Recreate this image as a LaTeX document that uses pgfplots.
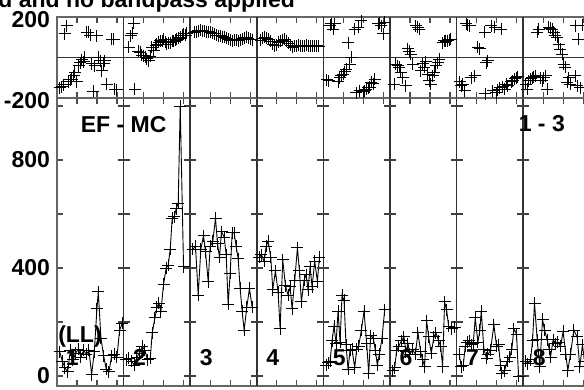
\documentclass[border=0pt]{standalone}
\usepackage{fontspec}
\setmainfont{Liberation Sans}
\usepackage{pgfplots}
\pgfplotsset{compat=1.18}

% shared frame of the two rows: 8 baseline panels side by side on x = 0..8
\pgfplotsset{
  panelframe/.style={
    scale only axis, width=266.4pt, xmin=0, xmax=8,
    axis line style={black!60, line width=0.9pt},
    xtick={0.3,0.6,0.9,1.3,1.6,1.9,2.3,2.6,2.9,3.3,3.6,3.9,4.3,4.6,4.9,5.3,5.6,5.9,6.3,6.6,6.9,7.3,7.6,7.9},
    xticklabels={},
    tick align=inside, major tick length=3pt,
    tick style={black!70, line width=0.6pt},
    extra x ticks={1,2,3,4,5,6,7}, extra x tick labels={},
    extra x tick style={grid=major, major tick length=0pt},
    major grid style={black!80, line width=0.8pt},
    /pgf/number format/assume math mode=true,
  },
  vis/.style={black, line width=0.45pt, mark=+, mark size=3pt,
    mark options={solid, line width=0.5pt}},
}

\begin{document}
\begin{tikzpicture}[font=\fontsize{11.5}{13}\selectfont\bfseries]

% amplitude row
\begin{axis}[panelframe, at={(28.5pt,2pt)}, anchor=south west, height=144pt,
  ymin=-37, ymax=1030, ytick={0,200,400,600,800,1000}, yticklabels={0,,400,,800,}]
\addplot[vis] coordinates {(0.04,90) (0.08,55) (0.12,30) (0.16,15) (0.20,95) (0.24,60) (0.28,85) (0.32,100) (0.36,70) (0.40,95) (0.44,80) (0.48,95) (0.52,5) (0.56,90) (0.60,250) (0.62,312) (0.66,140) (0.70,75) (0.74,25) (0.78,15) (0.82,75) (0.86,80) (0.90,70) (0.94,170) (0.98,195)};
\addplot[vis] coordinates {(1.04,60) (1.08,65) (1.12,55) (1.16,40) (1.20,70) (1.24,85) (1.28,110) (1.32,95) (1.36,60) (1.40,65) (1.43,160) (1.47,215) (1.50,255) (1.53,270) (1.56,240) (1.60,340) (1.64,400) (1.67,410) (1.70,470) (1.73,585) (1.76,590) (1.79,620) (1.82,640) (1.85,1000) (1.90,405)};
\addplot[vis] coordinates {(2.04,470) (2.08,480) (2.12,300) (2.16,470) (2.20,520) (2.23,460) (2.27,350) (2.30,480) (2.34,500) (2.38,585) (2.41,490) (2.44,440) (2.47,535) (2.51,515) (2.54,450) (2.57,265) (2.60,380) (2.63,530) (2.66,530) (2.69,480) (2.72,435) (2.75,325) (2.78,240) (2.81,170) (2.85,255) (2.89,325) (2.93,255)};
\addplot[vis] coordinates {(3.04,440) (3.07,450) (3.11,425) (3.14,480) (3.17,500) (3.21,440) (3.24,320) (3.28,390) (3.32,310) (3.35,175) (3.39,430) (3.43,335) (3.47,300) (3.50,330) (3.53,250) (3.57,355) (3.61,475) (3.64,390) (3.67,275) (3.71,355) (3.74,375) (3.77,320) (3.80,405) (3.83,330) (3.87,425) (3.91,350) (3.94,440)};
\addplot[vis] coordinates {(4.04,40) (4.07,50) (4.10,55) (4.13,130) (4.16,185) (4.19,120) (4.22,240) (4.25,125) (4.28,300) (4.31,280) (4.34,115) (4.37,25) (4.40,95) (4.43,100) (4.47,30) (4.50,100) (4.53,110) (4.57,170) (4.61,240) (4.65,120) (4.68,10) (4.71,150) (4.75,140) (4.78,95) (4.81,40) (4.84,80) (4.88,140) (4.92,245)};
\addplot[vis] coordinates {(5.04,20) (5.07,30) (5.10,95) (5.13,110) (5.17,130) (5.21,145) (5.24,90) (5.27,120) (5.30,80) (5.34,100) (5.38,80) (5.42,160) (5.46,90) (5.49,60) (5.52,35) (5.55,205) (5.58,145) (5.62,85) (5.66,145) (5.69,160) (5.73,130) (5.76,110) (5.79,35) (5.82,275) (5.85,245) (5.88,185) (5.93,175) (5.97,180)};
\addplot[vis] coordinates {(6.04,80) (6.07,35) (6.10,40) (6.13,110) (6.16,125) (6.19,130) (6.22,115) (6.25,120) (6.28,215) (6.32,125) (6.35,170) (6.37,240) (6.41,100) (6.45,65) (6.47,80) (6.51,95) (6.56,190) (6.60,110) (6.63,115) (6.66,40) (6.68,10) (6.72,20) (6.76,55) (6.80,70) (6.83,100) (6.86,175) (6.90,155) (6.93,0)};
\addplot[vis] coordinates {(7.04,55) (7.07,45) (7.11,60) (7.14,130) (7.17,270) (7.21,135) (7.25,35) (7.29,210) (7.32,170) (7.36,135) (7.39,100) (7.41,70) (7.45,135) (7.49,120) (7.52,125) (7.56,110) (7.60,165) (7.64,80) (7.67,20) (7.71,80) (7.76,170) (7.81,145) (7.85,35) (7.89,115) (7.92,55) (7.96,80)};
% cross ticks on the panel dividers
\pgfplotsinvokeforeach{1,...,7}{
  \draw[black!75, line width=0.6pt]
    (axis cs:#1,0) ++(-3pt,0pt) -- ++(6pt,0pt)
    (axis cs:#1,200) ++(-3pt,0pt) -- ++(6pt,0pt)
    (axis cs:#1,400) ++(-3pt,0pt) -- ++(6pt,0pt)
    (axis cs:#1,600) ++(-3pt,0pt) -- ++(6pt,0pt)
    (axis cs:#1,800) ++(-3pt,0pt) -- ++(6pt,0pt)
    (axis cs:#1,1000) ++(-3pt,0pt) -- ++(6pt,0pt);
}
\node at (axis cs:1.0,930) {EF - MC};
\node at (axis cs:7.28,935) {1 - 3};
\node at (axis cs:0.345,148) {(LL)};
\node at (axis cs:0.23,68) {1};
\node at (axis cs:1.24,68) {2};
\node at (axis cs:2.24,68) {3};
\node at (axis cs:3.24,68) {4};
\node at (axis cs:4.24,68) {5};
\node at (axis cs:5.24,68) {6};
\node at (axis cs:6.24,68) {7};
\node at (axis cs:7.24,68) {8};
\end{axis}

% phase row
\begin{axis}[panelframe, at={(28.5pt,146pt)}, anchor=south west, height=40.5pt,
  ymin=-200, ymax=200, ytick={-200,200}, yticklabels={-200,200},
  yticklabel style={yshift=-1.5pt},
  extra y ticks={0}, extra y tick labels={},
  extra y tick style={grid=major, major tick length=0pt}]
\addplot[vis, only marks] coordinates {(0.04,-150) (0.07,-145) (0.10,-135) (0.12,116) (0.145,157) (0.17,-120) (0.20,-110) (0.22,-107) (0.25,-90) (0.27,-74) (0.30,-120) (0.33,-40) (0.35,-25) (0.37,-10) (0.40,-20) (0.42,0) (0.45,124) (0.47,124) (0.50,110) (0.52,-32) (0.545,-167) (0.57,-40) (0.595,107) (0.62,0) (0.65,-15) (0.67,-65) (0.70,-30) (0.72,-16) (0.75,-132) (0.82,91) (0.85,91) (0.87,-156) (0.90,-160)};
\addplot[vis, only marks] coordinates {(1.08,50) (1.11,107) (1.13,120) (1.15,170) (1.17,-156) (1.22,30) (1.25,25) (1.27,10) (1.30,8) (1.33,0) (1.35,-5) (1.38,-16) (1.40,5) (1.42,50) (1.45,35) (1.48,60) (1.50,66) (1.53,75) (1.55,83) (1.58,80) (1.60,91) (1.63,75) (1.65,66) (1.68,74) (1.70,74) (1.73,80) (1.75,80) (1.78,85) (1.80,91) (1.83,95) (1.85,99) (1.88,110) (1.90,116) (1.93,110) (1.95,120)};
\addplot[vis, only marks] coordinates {(2.06,124) (2.09,128) (2.12,132) (2.15,134) (2.18,132) (2.21,130) (2.24,128) (2.27,128) (2.30,125) (2.33,120) (2.36,116) (2.39,110) (2.42,107) (2.45,107) (2.48,102) (2.51,99) (2.54,95) (2.57,91) (2.60,85) (2.63,83) (2.66,88) (2.69,85) (2.72,83) (2.75,88) (2.78,92) (2.81,97) (2.84,99) (2.87,95) (2.90,90) (2.93,88)};
\addplot[vis, only marks] coordinates {(3.06,85) (3.09,95) (3.12,99) (3.15,95) (3.18,90) (3.21,80) (3.24,66) (3.27,57) (3.30,60) (3.33,75) (3.36,80) (3.39,85) (3.42,91) (3.45,80) (3.48,70) (3.51,60) (3.54,50) (3.57,55) (3.60,57) (3.63,60) (3.66,58) (3.69,55) (3.72,57) (3.75,60) (3.78,58) (3.81,57) (3.84,57) (3.87,55) (3.90,57) (3.93,55)};
\addplot[vis, only marks] coordinates {(4.05,-110) (4.08,-115) (4.10,160) (4.12,166) (4.145,140) (4.17,166) (4.22,-120) (4.245,-99) (4.27,-90) (4.295,-82) (4.32,-70) (4.345,-58) (4.37,74) (4.395,-33) (4.42,0) (4.47,140) (4.495,-173) (4.52,149) (4.545,-165) (4.57,182) (4.595,-170) (4.62,-165) (4.645,-156) (4.67,-150) (4.695,-148) (4.72,-123) (4.745,-130) (4.77,-107) (4.82,166) (4.845,170) (4.87,157) (4.895,116) (4.92,175)};
\addplot[vis, only marks] coordinates {(5.065,-132) (5.09,-33) (5.115,-40) (5.14,-49) (5.165,-74) (5.19,-100) (5.24,-140) (5.265,42) (5.29,30) (5.315,17) (5.34,-33) (5.39,157) (5.415,150) (5.44,140) (5.465,-66) (5.49,-30) (5.515,-49) (5.54,-20) (5.565,-82) (5.59,-115) (5.615,-132) (5.64,-90) (5.665,-74) (5.69,-40) (5.715,-25) (5.74,-8) (5.79,74) (5.815,83) (5.84,80) (5.865,83) (5.89,87) (5.915,91)};
\addplot[vis, only marks] coordinates {(6.05,-120) (6.07,-140) (6.095,-132) (6.12,-165) (6.145,166) (6.17,160) (6.195,157) (6.22,-100) (6.27,-91) (6.32,50) (6.345,42) (6.42,124) (6.43,-180) (6.445,-25) (6.47,-16) (6.52,157) (6.545,-165) (6.57,149) (6.595,-173) (6.62,-160) (6.645,-150) (6.67,140) (6.695,-145) (6.72,-156) (6.745,-132) (6.77,-140) (6.82,-120) (6.845,-115) (6.87,-105) (6.895,-99) (6.92,-95)};
\addplot[vis, only marks] coordinates {(7.035,-132) (7.06,-156) (7.085,-115) (7.11,-105) (7.135,-99) (7.16,-95) (7.185,-91) (7.21,124) (7.235,140) (7.26,-100) (7.285,-115) (7.31,-100) (7.335,-91) (7.36,-156) (7.385,149) (7.41,145) (7.435,140) (7.46,124) (7.485,110) (7.51,99) (7.535,66) (7.56,40) (7.585,17) (7.61,-33) (7.635,-49) (7.66,-123) (7.685,-100) (7.71,-132) (7.785,-91) (7.79,157) (7.81,-140) (7.83,91) (7.86,-150) (7.89,160)};
\end{axis}

\node[anchor=base west, inner sep=0pt] at (-1pt,191pt) {d and no bandpass applied};

\pgfresetboundingbox
\useasboundingbox (0,0) rectangle (292pt,195pt);
\end{tikzpicture}
\end{document}
